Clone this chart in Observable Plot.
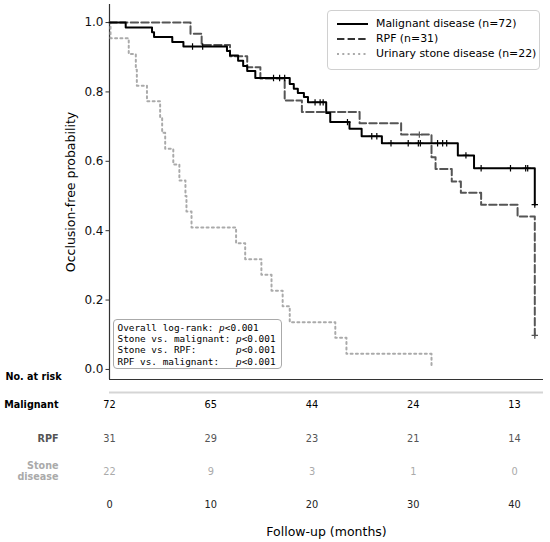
<!DOCTYPE html>
<html>
<head>
<meta charset="utf-8">
<script src="https://cdn.jsdelivr.net/npm/d3@7"></script>
<script src="https://cdn.jsdelivr.net/npm/@observablehq/plot@0.6"></script>
<style>
  body { margin: 0; background: #fff; font-family: "DejaVu Sans", sans-serif; }
  #wrap { position: relative; width: 550px; height: 542px; }
  #wrap > svg { display: block; }
  .legend { position: absolute; left: 327px; top: 10px; width: 213px; height: 60px;
    border: 1px solid #d0d0d0; border-radius: 4px; background: rgba(255,255,255,0.85);
    font-family: "DejaVu Sans", sans-serif; font-size: 10.9px; color: #000; box-sizing: border-box; }
  .legend .row { position: absolute; left: 9px; height: 14px; line-height: 14px; white-space: nowrap; display: flex; align-items: center; }
  .legend .row svg { display: block; margin-right: 8px; flex: none; }
  .note { position: absolute; left: 113px; top: 319px; width: 169px; height: 50px;
    border: 1px solid #aaa; border-radius: 4px; background: rgba(255,255,255,0.85);
    font-family: "DejaVu Sans Mono", monospace; font-size: 9.4px;
    padding: 1.5px 0 0 3.5px; box-sizing: border-box; color: #000; overflow: hidden; }
  .note div { height: 11.4px; line-height: 11.4px; white-space: pre; }
  .note i { font-style: italic; }
</style>
</head>
<body>
<div id="wrap"></div>
<script>
// ---- data ----
const months = [0, 10, 20, 30, 40];
const riskMalignant = [72, 65, 44, 24, 13];
const riskRPF = [31, 29, 23, 21, 14];
const riskStone = [22, 9, 3, 1, 0];
const yTicks = [0, 0.2, 0.4, 0.6, 0.8, 1.0];

const malT = [0, 1.6, 4.2, 4.4, 6.2, 7.3, 11.6, 11.9, 12.7, 13.2, 13.6, 14.4, 17.8, 18.2, 18.6, 19.2, 19.6, 21.4, 21.8, 23.7, 24.9, 26.9, 34.4, 36.0, 42.0];
const malS = [1.0, 0.986, 0.972, 0.958, 0.944, 0.931, 0.918, 0.905, 0.890, 0.875, 0.860, 0.840, 0.823, 0.809, 0.797, 0.785, 0.770, 0.739, 0.713, 0.694, 0.672, 0.652, 0.617, 0.580, 0.475];
const malCensT = [8.2, 9.2, 16.2, 16.8, 17.3, 20.3, 20.8, 21.1, 23.5, 25.9, 26.4, 27.8, 29.5, 30.5, 30.7, 32.4, 32.9, 33.3, 35.2, 36.7, 39.6, 41.1, 41.3, 42.0];
const malCensS = [0.931, 0.931, 0.840, 0.840, 0.840, 0.770, 0.770, 0.770, 0.713, 0.672, 0.672, 0.652, 0.652, 0.652, 0.652, 0.652, 0.652, 0.652, 0.617, 0.580, 0.580, 0.580, 0.580, 0.475];

const rpfT = [0, 8.0, 9.1, 11.9, 13.6, 14.9, 17.3, 19.0, 24.7, 28.8, 31.8, 32.2, 33.8, 34.7, 36.7, 40.3, 42.0];
const rpfS = [1.0, 0.968, 0.935, 0.903, 0.871, 0.839, 0.775, 0.742, 0.710, 0.677, 0.612, 0.578, 0.542, 0.509, 0.475, 0.441, 0.098];
const rpfCensT = [30.6, 42.0];
const rpfCensS = [0.677, 0.098];

const stoneT = [0, 0.1, 1.9, 2.6, 2.7, 3.7, 5.0, 5.2, 5.5, 6.3, 6.9, 7.5, 7.6, 8.1, 12.5, 13.4, 15.0, 16.0, 17.1, 17.8, 22.3, 23.4, 31.8];
const stoneS = [1.0, 0.955, 0.909, 0.864, 0.818, 0.773, 0.727, 0.682, 0.636, 0.591, 0.545, 0.500, 0.455, 0.409, 0.364, 0.318, 0.273, 0.227, 0.182, 0.136, 0.091, 0.045, 0.012];

const legendLabels = ["Malignant disease (n=72)", "RPF (n=31)", "Urinary stone disease (n=22)"];
const noteLines = [
  ["Overall log-rank: ", "p", "<0.001"],
  ["Stone vs. malignant: ", "p", "<0.001"],
  ["Stone vs. RPF:       ", "p", "<0.001"],
  ["RPF vs. malignant:   ", "p", "<0.001"]
];

// ---- styles ----
const colMal = "#000000", colRPF = "#555555", colStone = "#aaaaaa";
const xDomain = [0, 42.86];
const yDomain = [-0.029, 1.052];

const toRows = (T, S) => T.map((t, i) => ({t, s: S[i]}));
const plusSymbol = {
  draw(ctx, size) {
    const r = Math.sqrt(size / Math.PI);
    ctx.moveTo(-r, 0); ctx.lineTo(r, 0);
    ctx.moveTo(0, -r); ctx.lineTo(0, r);
  }
};

const rowText = (vals, dy, fill) => Plot.text(vals, {
  x: months, text: d => String(d), frameAnchor: "bottom", dy, fill, fontSize: 9.8
});
const rowLabel = (label, dy, fill) => Plot.text([label], {
  frameAnchor: "bottom-left", dx: -51, dy, textAnchor: "end", fill,
  fontWeight: "bold", fontSize: 9.6
});

const plot = Plot.plot({
  width: 550, height: 542,
  marginLeft: 109, marginRight: 7, marginTop: 4, marginBottom: 163,
  style: { fontFamily: "DejaVu Sans, sans-serif", background: "white", overflow: "visible" },
  x: { domain: xDomain, axis: null },
  y: { domain: yDomain, axis: null },
  marks: [
    Plot.axisY(yTicks, { tickFormat: d3.format(".1f"), tickSize: 3.5, tickPadding: 2.5, fontSize: 12, label: null, stroke: "#333", fill: "#111" }),
    Plot.ruleX([xDomain[0]], { stroke: "#333", strokeWidth: 1.2 }),
    Plot.ruleY([yDomain[0]], { stroke: "#333", strokeWidth: 1.2 }),
    Plot.ruleY([yDomain[0]], { dy: 13, stroke: "#d5d5d5", strokeWidth: 2 }),
    Plot.line(toRows(stoneT, stoneS), { x: "t", y: "s", curve: "step-after", stroke: colStone, strokeWidth: 2, strokeDasharray: "2,3.3" }),
    Plot.line(toRows(rpfT, rpfS), { x: "t", y: "s", curve: "step-after", stroke: colRPF, strokeWidth: 2, strokeDasharray: "7.4,3.2" }),
    Plot.line(toRows(malT, malS), { x: "t", y: "s", curve: "step-after", stroke: colMal, strokeWidth: 2 }),
    Plot.dot(toRows(rpfCensT, rpfCensS), { x: "t", y: "s", symbol: plusSymbol, r: 3.2, stroke: colRPF, fill: "none", strokeWidth: 1.2 }),
    Plot.dot(toRows(malCensT, malCensS), { x: "t", y: "s", symbol: plusSymbol, r: 3.2, stroke: colMal, fill: "none", strokeWidth: 1.2 }),
    Plot.text(["Occlusion-free probability"], { frameAnchor: "left", dx: -39, rotate: -90, textAnchor: "middle", fontSize: 12.5, fill: "#000" }),
    Plot.text(["No. at risk"], { frameAnchor: "bottom-left", dx: -104, dy: 0, textAnchor: "start", fontWeight: "bold", fontSize: 9.6, fill: "#000" }),
    rowLabel("Malignant", 28, colMal),
    rowLabel("RPF", 62, colRPF),
    rowLabel("Stone", 89.5, colStone),
    rowLabel("disease", 100.5, colStone),
    rowText(riskMalignant, 28, colMal),
    rowText(riskRPF, 62, colRPF),
    rowText(riskStone, 95, colStone),
    Plot.text(months, { x: months, text: d => String(d), frameAnchor: "bottom", dy: 128, fontSize: 9.8, fill: "#222" }),
    Plot.text(["Follow-up (months)"], { frameAnchor: "bottom", dy: 156, fontSize: 12.5, fill: "#000" })
  ]
});

const wrap = document.getElementById("wrap");
wrap.appendChild(plot);

// legend
const legend = document.createElement("div");
legend.className = "legend";
const legendStyles = [
  { stroke: colMal, dash: null },
  { stroke: "#333", dash: "7.4,3.2" },
  { stroke: colStone, dash: "2,3.3" }
];
legendLabels.forEach((lab, i) => {
  const row = document.createElement("div");
  row.className = "row";
  row.style.top = (6 + i * 15) + "px";
  const st = legendStyles[i];
  row.innerHTML = `<svg width="31" height="10"><line x1="0" y1="5" x2="31" y2="5" stroke="${st.stroke}" stroke-width="2" ${st.dash ? `stroke-dasharray="${st.dash}"` : ""}/></svg><span>${lab}</span>`;
  legend.appendChild(row);
});
wrap.appendChild(legend);

// annotation box: one block per line
const note = document.createElement("div");
note.className = "note";
note.innerHTML = noteLines.map(([a, p, b]) => `<div>${a}<i>${p}</i>${b.replace("<", "&lt;")}</div>`).join("");
wrap.appendChild(note);
</script>
</body>
</html>
